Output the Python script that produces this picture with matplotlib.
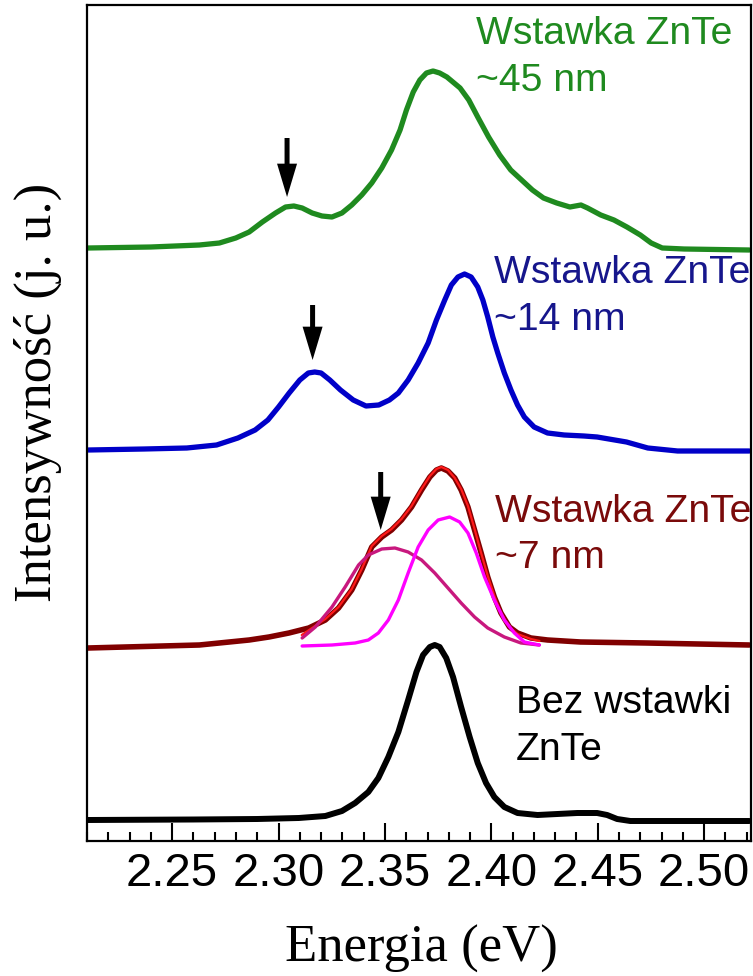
import matplotlib
matplotlib.use("Agg")
import matplotlib.pyplot as plt
from matplotlib.ticker import MultipleLocator

# Widma PL (energia w eV, intensywnosc w j. u. z przesunieciem pionowym)
e_45nm = [2.2105, 2.2400, 2.2628, 2.2722, 2.2799, 2.2862, 2.2924, 2.2986, 2.3033,
          2.3072, 2.3111, 2.3158, 2.3204, 2.3251, 2.3298, 2.3344, 2.3391, 2.3438,
          2.3485, 2.3531, 2.3571, 2.3601, 2.3633, 2.3664, 2.3695, 2.3726, 2.3757,
          2.3791, 2.3853, 2.3894, 2.3936, 2.3987, 2.4039, 2.4091, 2.4142, 2.4193,
          2.4245, 2.4307, 2.4369, 2.4421, 2.4452, 2.4514, 2.4576, 2.4637, 2.4700,
          2.4751, 2.4803, 2.4906, 2.5212]
i_45nm = [5.93, 5.94, 5.96, 5.98, 6.03, 6.09, 6.19, 6.28, 6.34,
          6.35, 6.33, 6.28, 6.25, 6.24, 6.28, 6.36, 6.46, 6.58,
          6.73, 6.91, 7.11, 7.31, 7.49, 7.61, 7.68, 7.70, 7.68,
          7.64, 7.53, 7.41, 7.24, 7.04, 6.86, 6.71, 6.61, 6.51,
          6.43, 6.38, 6.34, 6.36, 6.33, 6.26, 6.21, 6.14, 6.06,
          5.98, 5.93, 5.92, 5.91]

e_14nm = [2.2107, 2.2368, 2.2569, 2.2709, 2.2809, 2.2890, 2.2950, 2.3000, 2.3050,
          2.3100, 2.3140, 2.3170, 2.3200, 2.3241, 2.3291, 2.3351, 2.3411, 2.3471,
          2.3521, 2.3563, 2.3609, 2.3656, 2.3703, 2.3742, 2.3781, 2.3812, 2.3843,
          2.3874, 2.3905, 2.3936, 2.3960, 2.3983, 2.4007, 2.4030, 2.4061, 2.4092,
          2.4123, 2.4155, 2.4201, 2.4264, 2.4342, 2.4435, 2.4497, 2.4635, 2.4735,
          2.4875, 2.5212]
i_14nm = [3.91, 3.92, 3.93, 3.96, 4.03, 4.11, 4.21, 4.34, 4.48,
          4.61, 4.68, 4.69, 4.68, 4.61, 4.51, 4.41, 4.35, 4.36,
          4.41, 4.48, 4.61, 4.78, 4.98, 5.21, 5.41, 5.56, 5.64,
          5.67, 5.64, 5.54, 5.41, 5.24, 5.04, 4.88, 4.68, 4.51,
          4.36, 4.24, 4.14, 4.08, 4.06, 4.05, 4.04, 3.99, 3.93,
          3.90, 3.90]

e_7nm = [2.2105, 2.2628, 2.2862, 2.2955, 2.3049, 2.3142, 2.3220, 2.3282, 2.3344,
         2.3391, 2.3438, 2.3485, 2.3531, 2.3578, 2.3625, 2.3672, 2.3711, 2.3742,
         2.3765, 2.3796, 2.3828, 2.3858, 2.3890, 2.3921, 2.3952, 2.3983, 2.4014,
         2.4045, 2.4085, 2.4123, 2.4186, 2.4264, 2.4419, 2.4731, 2.5212]
i_7nm = [1.93, 1.96, 2.01, 2.04, 2.08, 2.13, 2.21, 2.33, 2.51,
         2.71, 2.94, 3.04, 3.11, 3.21, 3.34, 3.51, 3.64, 3.71,
         3.73, 3.70, 3.63, 3.51, 3.34, 3.11, 2.88, 2.64, 2.44,
         2.28, 2.14, 2.08, 2.03, 2.01, 1.99, 1.98, 1.96]

# dopasowanie (suma) i dwie skladowe gaussowskie dla ~7 nm
e_fit = [2.3109, 2.3220, 2.3282, 2.3344, 2.3391, 2.3438, 2.3485, 2.3531, 2.3578,
         2.3625, 2.3672, 2.3711, 2.3742, 2.3765, 2.3796, 2.3828, 2.3858, 2.3890,
         2.3921, 2.3952, 2.3983, 2.4014, 2.4045, 2.4085, 2.4123, 2.4186, 2.4226]
i_fit = [2.06, 2.22, 2.34, 2.52, 2.72, 2.95, 3.05, 3.12, 3.22,
         3.35, 3.52, 3.65, 3.72, 3.74, 3.71, 3.63, 3.52, 3.35,
         3.12, 2.88, 2.65, 2.45, 2.28, 2.14, 2.07, 2.02, 2.00]

e_g1 = [2.3111, 2.3173, 2.3251, 2.3313, 2.3376, 2.3422, 2.3485, 2.3547, 2.3609,
        2.3672, 2.3734, 2.3796, 2.3858, 2.3921, 2.3983, 2.4061, 2.4139, 2.4225]
i_g1 = [2.03, 2.14, 2.34, 2.54, 2.76, 2.86, 2.92, 2.93, 2.89,
        2.81, 2.68, 2.53, 2.38, 2.24, 2.13, 2.04, 1.98, 1.96]

e_g2 = [2.3111, 2.3251, 2.3360, 2.3422, 2.3469, 2.3516, 2.3563, 2.3609, 2.3656,
        2.3703, 2.3750, 2.3804, 2.3851, 2.3890, 2.3929, 2.3968, 2.4014, 2.4061,
        2.4108, 2.4155, 2.4225]
i_g2 = [1.95, 1.96, 1.98, 2.01, 2.08, 2.21, 2.41, 2.68, 2.94,
        3.11, 3.21, 3.24, 3.19, 3.08, 2.88, 2.64, 2.41, 2.21,
        2.08, 1.99, 1.96]

e_ref = [2.2105, 2.2600, 2.2900, 2.3095, 2.3220, 2.3298, 2.3360, 2.3422, 2.3469,
         2.3516, 2.3563, 2.3609, 2.3648, 2.3679, 2.3711, 2.3734, 2.3757, 2.3788,
         2.3820, 2.3858, 2.3898, 2.3936, 2.3975, 2.4014, 2.4061, 2.4123, 2.4217,
         2.4310, 2.4404, 2.4497, 2.4544, 2.4591, 2.4653, 2.5212]
i_ref = [0.21, 0.215, 0.22, 0.23, 0.25, 0.30, 0.38, 0.49, 0.63,
         0.84, 1.09, 1.41, 1.69, 1.86, 1.94, 1.96, 1.94, 1.83,
         1.64, 1.34, 1.04, 0.78, 0.58, 0.44, 0.34, 0.28, 0.26,
         0.27, 0.28, 0.28, 0.26, 0.22, 0.20, 0.20]

# strzalki: energia, poczatek i koniec (j. u.)
arrow_e = [2.304, 2.316, 2.348]
arrow_top = [7.03, 5.36, 3.69]
arrow_tip = [6.44, 4.81, 3.11]

# podpisy: tekst, energia, wysokosc linii bazowej, kolor
labels = [("Wstawka ZnTe", 2.3927, 7.97, "#1f8a1f"),
          ("~45 nm", 2.3927, 7.50, "#1f8a1f"),
          ("Wstawka ZnTe", 2.4011, 5.58, "#16168c"),
          ("~14 nm", 2.4011, 5.11, "#16168c"),
          ("Wstawka ZnTe", 2.4016, 3.19, "#7a0a0a"),
          ("~7 nm", 2.4016, 2.73, "#7a0a0a"),
          ("Bez wstawki", 2.4114, 1.28, "black"),
          ("ZnTe", 2.4114, 0.81, "black")]

xticks = [2.25, 2.30, 2.35, 2.40, 2.45, 2.50]

fig = plt.figure(figsize=(7.53, 9.76), dpi=100)
ax = fig.add_axes([87/753, 135/976, 664/753, 836/976])

style = dict(solid_joinstyle="round", solid_capstyle="round")
ax.plot(e_45nm, i_45nm, color="#1f8a1f", lw=3.8, **style)
ax.plot(e_14nm, i_14nm, color="#0000c8", lw=3.8, **style)
ax.plot(e_7nm, i_7nm, color="#800000", lw=4.0, **style)
ax.plot(e_fit, i_fit, color="#ff1a1a", lw=1.6, **style)
ax.plot(e_g1, i_g1, color="#c8187e", lw=2.4, **style)
ax.plot(e_g2, i_g2, color="#ff00ff", lw=2.4, **style)
ax.plot(e_ref, i_ref, color="black", lw=4.3, **style)

for e, top, tip in zip(arrow_e, arrow_top, arrow_tip):
    ax.annotate("", xy=(e, tip), xytext=(e, top),
                arrowprops=dict(arrowstyle="simple,head_length=1.2,head_width=0.72,tail_width=0.18",
                                mutation_scale=20, color="black", lw=0,
                                shrinkA=0, shrinkB=0))

for txt, e, y, c in labels:
    ax.text(e, y, txt, color=c, fontsize=28.2, family="Liberation Sans",
            ha="left", va="baseline")

ax.set_xlim(2.21, 2.522)
ax.set_ylim(0, 8.36)
ax.set_xticks(xticks)
ax.set_xticklabels(["%.2f" % t for t in xticks], family="Liberation Sans", fontsize=34)
ax.xaxis.set_minor_locator(MultipleLocator(0.01))
ax.tick_params(axis="x", which="major", direction="in", length=13, width=1.5, pad=8)
ax.tick_params(axis="x", which="minor", direction="in", length=6.5, width=1.5)
ax.set_yticks([])
for s in ax.spines.values():
    s.set_linewidth(1.6)

fig.text(421/753, 1 - 949/976, "Energia (eV)", family="Liberation Serif",
         fontsize=38, ha="center", va="center")
fig.text(38/753, 1 - 392/976, "Intensywność (j. u.)", family="Liberation Serif",
         fontsize=38, ha="center", va="center", rotation=90)

fig.savefig("out.png", dpi=100)
